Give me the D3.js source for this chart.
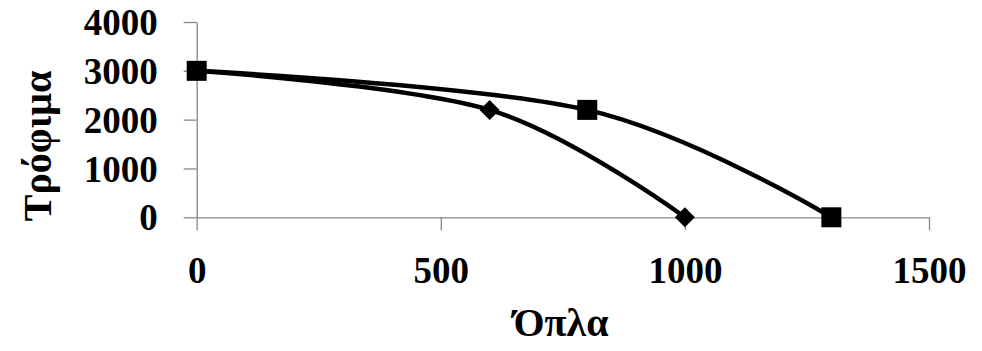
<!DOCTYPE html>
<html>
<head>
<meta charset="utf-8">
<script src="https://cdn.jsdelivr.net/npm/d3@7"></script>
<style>
  html, body { margin: 0; padding: 0; background: #fff; }
  svg text { font-family: "Liberation Serif", "DejaVu Serif", serif; font-weight: bold; fill: #000; }
</style>
</head>
<body>
<div id="chart"></div>
<script>
// ── Data ──────────────────────────────────────────────────────────────────────
const seriesA_x = [0, 600, 1000];      // diamond markers
const seriesA_y = [3000, 2200, 0];
const seriesB_x = [0, 800, 1300];      // square markers
const seriesB_y = [3000, 2200, 0];
const xTicks = [0, 500, 1000, 1500];
const yTicks = [0, 1000, 2000, 3000, 4000];
const xTitle = 'Όπλα';
const yTitle = 'Τρόφιμα';

// ── Layout ────────────────────────────────────────────────────────────────────
const W = 982, H = 351;
const svg = d3.select('#chart').append('svg')
  .attr('width', W)
  .attr('height', H);

const x = d3.scaleLinear().domain([0, 1500]).range([196.7, 929]);
const y = d3.scaleLinear().domain([0, 4000]).range([217.3, 22]);
const fmt = d3.format('d');

// ── Axes ──────────────────────────────────────────────────────────────────────
const xAxis = svg.append('g')
  .attr('transform', `translate(0,${y(0)})`)
  .call(d3.axisBottom(x).tickValues(xTicks).tickFormat(fmt)
    .tickSize(13).tickSizeOuter(0).tickPadding(14));

const yAxis = svg.append('g')
  .attr('transform', `translate(${x(0)},0)`)
  .call(d3.axisLeft(y).tickValues(yTicks).tickFormat(fmt)
    .tickSize(13).tickSizeOuter(0).tickPadding(26));

[xAxis, yAxis].forEach(g => {
  g.selectAll('path, line').attr('stroke', '#878787').attr('stroke-width', 1.3);
  g.selectAll('text')
    .attr('font-family', '"Liberation Serif", serif')
    .attr('font-weight', 'bold')
    .attr('font-size', 37)
    .attr('fill', '#000');
});
yAxis.selectAll('text').attr('dy', '0.34em');
xAxis.selectAll('text').attr('dy', '1.04em');

// ── Lines ─────────────────────────────────────────────────────────────────────
const line = d3.line()
  .x(d => x(d[0]))
  .y(d => y(d[1]))
  .curve(d3.curveCardinal.tension(0));

const ptsA = seriesA_x.map((v, i) => [v, seriesA_y[i]]);
const ptsB = seriesB_x.map((v, i) => [v, seriesB_y[i]]);

[ptsA, ptsB].forEach(pts => {
  svg.append('path')
    .datum(pts)
    .attr('d', line)
    .attr('fill', 'none')
    .attr('stroke', '#000')
    .attr('stroke-width', 4.5)
    .attr('stroke-linejoin', 'round');
});

// ── Markers ───────────────────────────────────────────────────────────────────
svg.selectAll('.diamond')
  .data(ptsA)
  .enter().append('path')
  .attr('class', 'diamond')
  .attr('transform', d => `translate(${x(d[0])},${y(d[1])})`)
  .attr('d', 'M0,-10L10,0L0,10L-10,0Z')
  .attr('fill', '#000');

svg.selectAll('.square')
  .data(ptsB)
  .enter().append('rect')
  .attr('class', 'square')
  .attr('x', d => x(d[0]) - 10)
  .attr('y', d => y(d[1]) - 10)
  .attr('width', 20)
  .attr('height', 20)
  .attr('fill', '#000');

// ── Titles ────────────────────────────────────────────────────────────────────
svg.append('text')
  .attr('x', 561)
  .attr('y', 336)
  .attr('text-anchor', 'middle')
  .attr('font-size', 40)
  .text(xTitle);

svg.append('text')
  .attr('transform', 'translate(51,146) rotate(-90)')
  .attr('text-anchor', 'middle')
  .attr('font-size', 40)
  .text(yTitle);
</script>
</body>
</html>
